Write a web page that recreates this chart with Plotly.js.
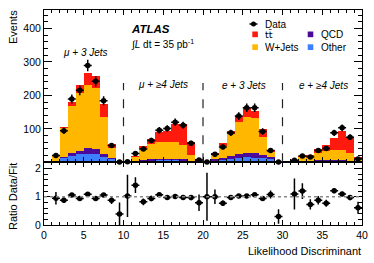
<!DOCTYPE html>
<html>
<head>
<meta charset="utf-8">
<script src="https://cdn.plot.ly/plotly-3.0.1.min.js"></script>
<style>html,body{margin:0;padding:0;background:#fff;}#chart{width:374px;height:263px;}</style>
</head>
<body>
<div id="chart"></div>
<script>
// ---- data ----
const binCenters = [0.5,1.5,2.5,3.5,4.5,5.5,6.5,7.5,8.5,9.5,10.5,11.5,12.5,13.5,14.5,15.5,16.5,17.5,18.5,19.5,
                    20.5,21.5,22.5,23.5,24.5,25.5,26.5,27.5,28.5,29.5,30.5,31.5,32.5,33.5,34.5,35.5,36.5,37.5,38.5,39.5];
const other = [0,3,13,19,24,25,24,17,9,0.5, 0.3,3,5,5,6,6,6,5,3,1, 0.2,5,8,11,14,15,14,12,9,0.8, 0,1,2,2,3,3,3,3,3,2];
const qcd   = [0,2,4,8,10,17,16,7,5,0.5, 0.3,2,3,4,5,5,5,4,2,1, 0.2,4,4,8,11,12,13,10,6,0.7, 0,1,2,2,3,3,3,3,2,1];
const wjets = [0,15,85,140,172,189,181,112,28,1, 0.9,10,31,46,51,51,49,43,17,3, 0.4,15,38,66,95,107,106,54,15,1, 0,3,13,13,21,29,32,32,22,7];
const ttbar = [0,2,4,14,25,35,38,38,13,0.5, 0.5,3.5,10,14,28,33,54,61,38,4, 0.2,3,9,8,18,29,20,23,6,1, 0,0.5,3,5,13,18,35,56,50,6];
const dataVals = [null,20,94,189,215,289,242,184,50,1, 2,26,40,65,96,101,120,111,57,7, 1,24,46,88,138,163,163,92,35,1, null,6,19,16,35,41,88,103,75,10];
const dataErr  = [0,4.5,9.7,13.7,14.7,17,15.6,13.6,7.1,1, 1.4,5.1,6.3,8.1,9.8,10,11,10.5,7.5,2.6, 1,4.9,6.8,9.4,11.7,12.8,12.8,9.6,5.9,1, 0,2.4,4.4,4,5.9,6.4,9.4,10.1,8.7,3.2];
const ratioVals = [null,0.95,0.88,1.06,0.94,1.09,0.94,1.06,0.88,0.39, 1.03,1.41,0.82,0.94,1.07,0.97,1.01,0.97,0.97,0.79,
                   1.0,1.0,0.77,0.97,1.03,1.03,1.07,0.94,1.08,0.30, null,1.10,1.20,0.73,0.88,0.77,1.21,1.10,0.97,0.61];
const ratioErr  = [0,0.22,0.10,0.07,0.07,0.07,0.07,0.07,0.14,0.41, 0.75,0.28,0.12,0.10,0.08,0.07,0.07,0.07,0.09,0.29,
                   0.85,0.26,0.10,0.07,0.06,0.06,0.06,0.07,0.14,0.26, 0,0.55,0.28,0.18,0.15,0.12,0.09,0.08,0.09,0.21];
const channelEdges = [10,20,30];
const channelLabels = ["<i>μ + 3 Jets</i>","<i>μ + ≥4 Jets</i>","<i>e + 3 Jets</i>","<i>e + ≥4 Jets</i>"];
const xTickVals = [0,5,10,15,20,25,30,35,40];
const yTickVals = [100,200,300,400];
const ratioTickVals = [0,1,2];

// ---- styling ----
const C_TT = '#ff1a0d', C_W = '#ffb700', C_QCD = '#4b0a9b', C_OTH = '#3d80ff';
const FONT = 'Liberation Sans, Arial, Helvetica, sans-serif';
const W = 374, H = 263, ML = 44, MR = 12, MT = 10, MB = 38;
const px = x => (x - ML) / (W - ML - MR);
const py = y => (H - MB - y) / (H - MT - MB);

function barTrace(vals, color, name){
  return {type:'bar', x:binCenters, y:vals, width:1, marker:{color:color, line:{width:0}},
          name:name, xaxis:'x', yaxis:'y', hoverinfo:'skip', showlegend:false};
}
const traces = [
  barTrace(other, C_OTH, 'Other'),
  barTrace(qcd, C_QCD, 'QCD'),
  barTrace(wjets, C_W, 'W+Jets'),
  barTrace(ttbar, C_TT, 'tt'),
  {type:'scatter', mode:'markers', x:binCenters, y:dataVals, xaxis:'x', yaxis:'y', cliponaxis:false,
   marker:{color:'black', size:5.5, symbol:'circle'},
   error_y:{type:'data', array:dataErr, visible:true, color:'black', thickness:1.5, width:0},
   error_x:{type:'constant', value:0.5, visible:true, color:'black', thickness:1.5, width:0},
   showlegend:false, hoverinfo:'skip'},
  {type:'scatter', mode:'markers', x:binCenters, y:ratioVals, xaxis:'x2', yaxis:'y2', cliponaxis:false,
   marker:{color:'black', size:5.5, symbol:'circle'},
   error_y:{type:'data', array:ratioErr, visible:true, color:'black', thickness:1.5, width:0},
   error_x:{type:'constant', value:0.5, visible:true, color:'black', thickness:1.5, width:0},
   showlegend:false, hoverinfo:'skip'}
];

const axisCommon = {showline:true, linecolor:'black', linewidth:1, mirror:'ticks', ticks:'inside',
                    tickcolor:'black', zeroline:false, showgrid:false,
                    tickfont:{family:FONT, size:10.5, color:'black'}};
const ratioDomainTop = 62.7 / (H - MT - MB);

const shapes = [];
channelEdges.forEach(e => shapes.push({type:'line', xref:'x', yref:'y', x0:e, x1:e, y0:0, y1:237,
  line:{color:'#222', width:1.2, dash:'dash'}}));
shapes.push({type:'line', xref:'x2', yref:'y2', x0:0, x1:40, y0:1, y1:1, line:{color:'#888', width:1.5, dash:'dot'}});
// legend symbols
shapes.push({type:'line', xref:'paper', yref:'paper', x0:px(249.5), x1:px(257.5), y0:py(24), y1:py(24), line:{color:'black', width:1.5}});
shapes.push({type:'circle', xref:'paper', yref:'paper', x0:px(251), x1:px(256), y0:py(26.5), y1:py(21.5), fillcolor:'black', line:{color:'black', width:0}});
[[252.3,31.5,C_TT],[307.7,31.5,C_QCD],[252.3,44.3,C_W],[307.7,44.3,C_OTH]].forEach(s => shapes.push({
  type:'rect', xref:'paper', yref:'paper', x0:px(s[0]), x1:px(s[0]+5.6), y0:py(s[1]), y1:py(s[1]+5.7),
  fillcolor:s[2], line:{width:0}}));

function txt(x, y, text, size, opts){
  return Object.assign({xref:'paper', yref:'paper', x:px(x), y:py(y), text:text, showarrow:false,
    xanchor:'left', yanchor:'middle', borderpad:0, font:{family:FONT, size:size, color:'black'}}, opts||{});
}
const annotations = [
  txt(264, 24, 'Data', 10),
  txt(264, 34.5, 't\u0074\u0304', 10, {font:{family:'DejaVu Sans, sans-serif', size:9.5, color:'black'}}),
  txt(320, 34.5, 'QCD', 10),
  txt(264, 47, 'W+Jets', 10),
  txt(320, 47, 'Other', 10),
  txt(129.5, 29, '<b><i>ATLAS</i></b>', 11.5),
  txt(129.5, 43.5, '∫<i>L</i> dt = 35 pb<sup>-1</sup>', 10),
  txt(61.5, 53, channelLabels[0], 10),
  txt(136.5, 85, channelLabels[1], 10),
  txt(220.5, 85.5, channelLabels[2], 10),
  txt(297.5, 85.5, channelLabels[3], 10),
  txt(13, 27, 'Events', 11, {xanchor:'center', textangle:-90}),
  txt(13, 196, 'Ratio Data/Fit', 11, {xanchor:'center', textangle:-90}),
  txt(362, 250.5, 'Likelihood Discriminant', 11, {xanchor:'right'})
];

const layout = {
  width:W, height:H, margin:{l:ML, r:MR, t:MT, b:MB, pad:0},
  paper_bgcolor:'white', plot_bgcolor:'white', barmode:'stack', bargap:0, showlegend:false,
  xaxis: Object.assign({}, axisCommon, {domain:[0,1], anchor:'y', range:[0,40], showticklabels:false,
     tickmode:'array', tickvals:xTickVals, ticklen:5, minor:{dtick:1, tick0:0, ticklen:3, ticks:'inside', tickcolor:'black'}}),
  yaxis: Object.assign({}, axisCommon, {domain:[ratioDomainTop,1], anchor:'x', range:[0,455],
     tickmode:'array', tickvals:yTickVals, ticklen:8, minor:{dtick:20, tick0:0, ticklen:4, ticks:'inside', tickcolor:'black'}}),
  xaxis2: Object.assign({}, axisCommon, {domain:[0,1], anchor:'y2', range:[0,40], matches:'x',
     tickmode:'array', tickvals:xTickVals, ticklen:5, minor:{dtick:1, tick0:0, ticklen:3, ticks:'inside', tickcolor:'black'}}),
  yaxis2: Object.assign({}, axisCommon, {domain:[0,ratioDomainTop], anchor:'x2', range:[0,2.22],
     tickmode:'array', tickvals:ratioTickVals, ticklen:8, minor:{dtick:0.2, tick0:0, ticklen:4, ticks:'inside', tickcolor:'black'}}),
  shapes:shapes, annotations:annotations
};
Plotly.newPlot('chart', traces, layout, {staticPlot:true, displayModeBar:false});
</script>
</body>
</html>
